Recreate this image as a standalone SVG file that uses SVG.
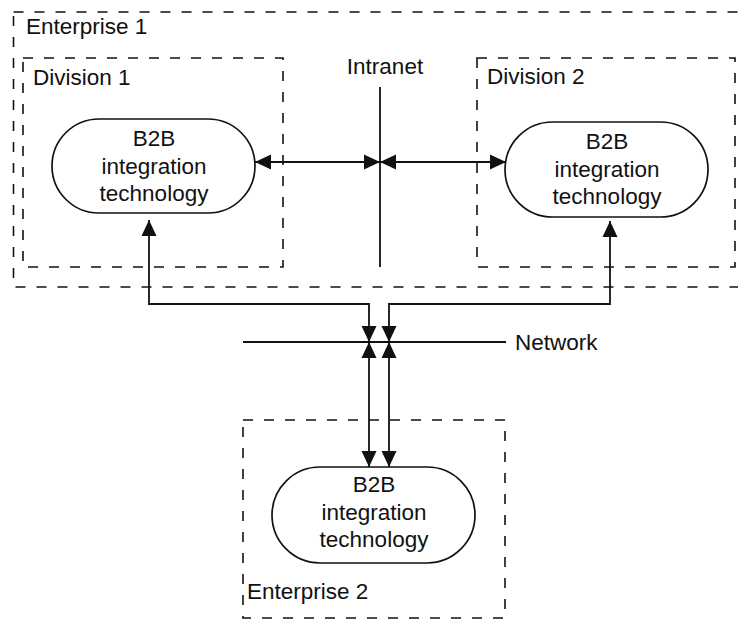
<svg xmlns="http://www.w3.org/2000/svg" width="738" height="621" viewBox="0 0 738 621">
<defs>
<style>
.box{fill:none;stroke:#111;stroke-width:1.6;stroke-dasharray:10 11}
.pill{fill:#fff;stroke:#111;stroke-width:1.7}
.ln{fill:none;stroke:#111;stroke-width:1.8}
.con{fill:none;stroke:#111;stroke-width:1.8;marker-start:url(#ah);marker-end:url(#ah)}
text{font-family:"Liberation Sans",Arial,Helvetica,sans-serif;font-size:22.5px;fill:#111}
.c{text-anchor:middle}
</style>
<marker id="ah" viewBox="0 0 16 16" refX="16" refY="8" markerWidth="16" markerHeight="16" markerUnits="userSpaceOnUse" orient="auto-start-reverse">
<path d="M0,0.5 L16,8 L0,15.5 z" fill="#111"/>
</marker>
</defs>
<rect width="738" height="621" fill="#fff"/>

<g id="enterprise1">
<rect class="box" x="13.5" y="12" width="740" height="275"/>
<text x="26" y="34">Enterprise 1</text>
</g>
<g id="division1">
<rect class="box" x="23" y="58" width="260" height="209"/>
<text x="33" y="85">Division 1</text>
</g>
<g id="division2">
<rect class="box" x="477" y="58" width="258" height="209"/>
<text x="487" y="84">Division 2</text>
</g>
<g id="enterprise2">
<rect class="box" x="243" y="420" width="262" height="198"/>
<text x="247" y="599">Enterprise 2</text>
</g>

<g id="intranet">
<line class="ln" x1="380" y1="87" x2="380" y2="267"/>
<text class="c" x="385" y="74">Intranet</text>
</g>
<g id="network">
<line class="ln" x1="243" y1="342" x2="506" y2="342"/>
<text x="515" y="350">Network</text>
</g>

<g id="b2b1">
<rect class="pill" x="52" y="119" width="203" height="94" rx="47"/>
<text class="c" x="154" y="146">B2B</text>
<text class="c" x="154" y="174">integration</text>
<text class="c" x="154" y="201">technology</text>
</g>
<g id="b2b2">
<rect class="pill" x="505" y="122" width="203" height="95" rx="47.5"/>
<text class="c" x="607" y="149">B2B</text>
<text class="c" x="607" y="177">integration</text>
<text class="c" x="607" y="204">technology</text>
</g>
<g id="b2b3">
<rect class="pill" x="272" y="467" width="203" height="96" rx="48"/>
<text class="c" x="374" y="492">B2B</text>
<text class="c" x="374" y="520">integration</text>
<text class="c" x="374" y="547">technology</text>
</g>

<g id="connectors">
<path class="con" d="M255,162 H380"/>
<path class="con" d="M380,162 H506"/>
<path class="con" d="M369,342 V304 H149 V220"/>
<path class="con" d="M389,342 V304 H610 V221"/>
<path class="con" d="M369,342 V467"/>
<path class="con" d="M389,342 V467"/>
</g>
</svg>
